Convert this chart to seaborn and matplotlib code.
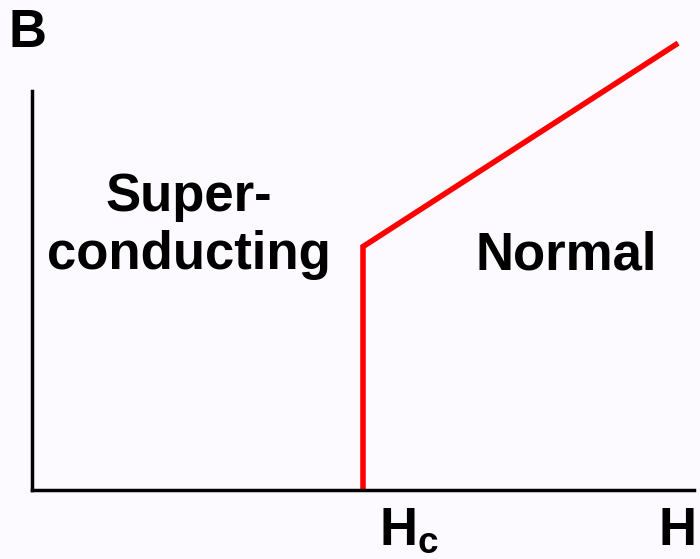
import numpy as np
import pandas as pd
import seaborn as sns
import matplotlib.pyplot as plt

# Data: B vs H for a type-I superconductor (axis units 0..1)
H_vals = [0.5, 0.5, 0.976]
B_vals = [0.0, 0.61, 1.12]

sns.set_style("white")
plt.rcParams['font.family'] = ['Liberation Sans', 'DejaVu Sans']
plt.rcParams['mathtext.fontset'] = 'custom'
plt.rcParams['mathtext.bf'] = 'Liberation Sans:bold'
plt.rcParams['mathtext.rm'] = 'Liberation Sans'

bg = '#fcfaff'
fig = plt.figure(figsize=(7, 5.59), dpi=100, facecolor=bg)
ax = fig.add_axes([32 / 700, 69 / 559, 662 / 700, 399 / 559])
ax.set_facecolor(bg)

df = pd.DataFrame({'H': H_vals, 'B': B_vals})
sns.lineplot(data=df, x='H', y='B', sort=False, estimator=None, errorbar=None,
             color='#ff0000', linewidth=4, ax=ax, clip_on=False)
for ln in ax.lines:
    ln.set_solid_joinstyle('miter')
    ln.set_solid_capstyle('butt')

ax.set_xlim(0, 1)
ax.set_ylim(0, 1)
ax.set_xticks([])
ax.set_yticks([])
ax.set_xlabel('')
ax.set_ylabel('')
for s in ['top', 'right']:
    ax.spines[s].set_visible(False)
for s in ['left', 'bottom']:
    ax.spines[s].set_color('black')
    ax.spines[s].set_linewidth(2.5)

fs = 38
kw = dict(fontsize=fs, fontweight='bold', color='black')
fig.text(28 / 700, 1 - 33 / 559, 'B', ha='center', va='center', **kw)
fig.text(189 / 700, 1 - 226 / 559, 'Super-\nconducting', ha='center', va='center',
         linespacing=1.2, **kw)
fig.text(566 / 700, 1 - 255 / 559, 'Normal', ha='center', va='center', **kw)
fig.text(379 / 700, 1 - 545 / 559, r'$\mathbf{H_c}$', ha='left', va='baseline', **kw)
fig.text(697 / 700, 1 - 545 / 559, 'H', ha='right', va='baseline', **kw)

fig.savefig('out.png', dpi=100, facecolor=bg)
